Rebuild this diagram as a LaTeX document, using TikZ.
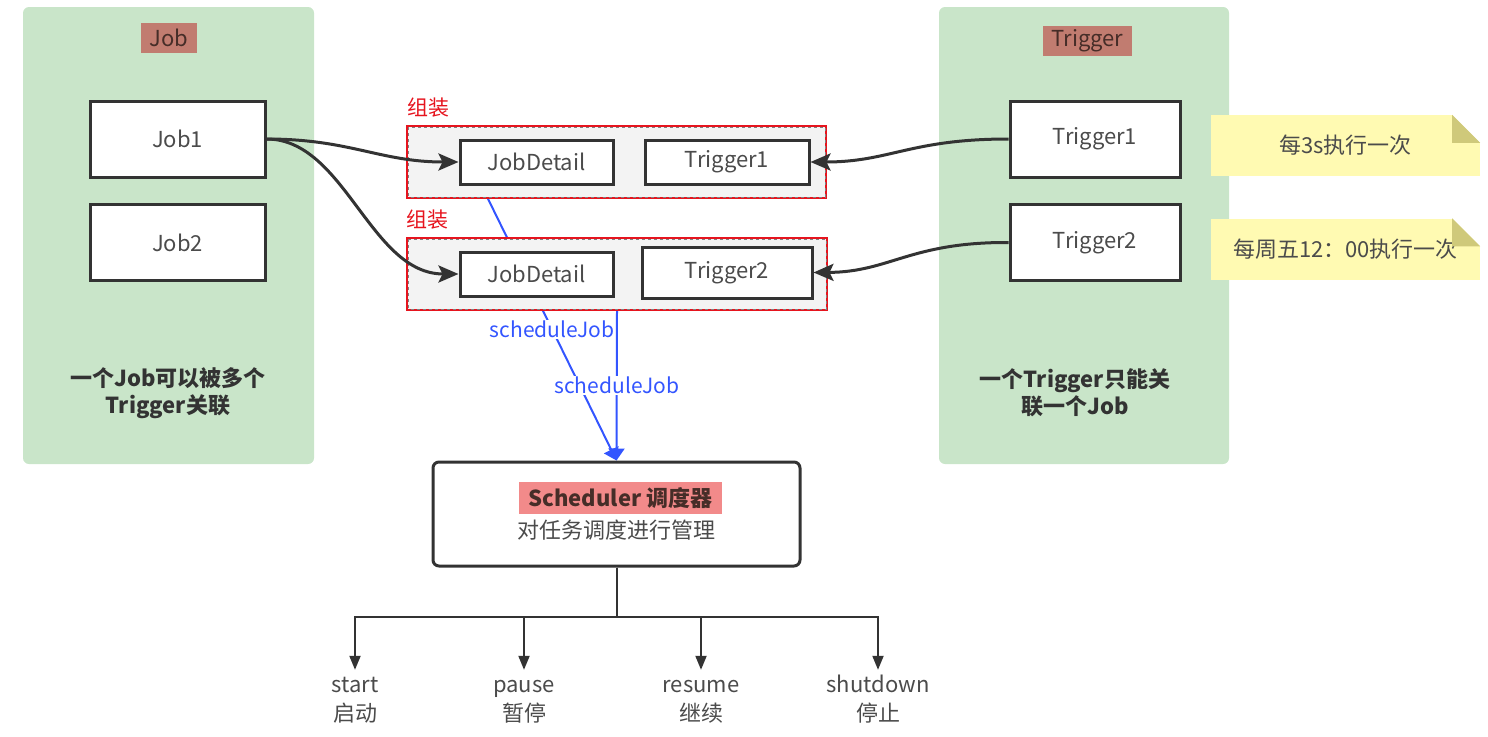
\documentclass[tikz,border=0pt]{standalone}
\usepackage{fontspec}
\setmainfont{Noto Sans CJK SC}
\usetikzlibrary{arrows.meta}
\pgfdeclarelayer{back}
\pgfsetlayers{back,main}
\definecolor{panelgreen}{RGB}{201,229,201}
\definecolor{tagred}{RGB}{193,124,112}
\definecolor{tagtext}{RGB}{70,45,40}
\definecolor{hilite}{RGB}{242,138,138}
\definecolor{boxline}{RGB}{51,51,51}
\definecolor{txtgray}{RGB}{75,75,75}
\definecolor{notey}{RGB}{255,250,178}
\definecolor{notefold}{RGB}{207,201,122}
\definecolor{blueline}{RGB}{51,85,255}
\definecolor{groupfill}{RGB}{243,243,243}
\definecolor{redline}{RGB}{230,20,30}
\begin{document}
\begin{tikzpicture}[x=1pt,y=-1pt,
  box/.style={draw=boxline,line width=3pt,fill=white,text=txtgray,font=\fontsize{22}{26}\selectfont,inner sep=0pt},
  tag/.style={fill=tagred,text=tagtext,font=\fontsize{22}{26}\selectfont,minimum height=30pt,inner xsep=9pt},
  grp/.style={draw=redline,line width=1.6pt,fill=groupfill,inner sep=0pt},
  grplabel/.style={text=redline,font=\fontsize{21}{25}\selectfont},
  note/.style={fill=notey,text=txtgray,font=\fontsize{22}{26}\selectfont,minimum width=269pt,minimum height=61pt,inner sep=0pt},
  remark/.style={align=center,text=boxline,font=\fontsize{22}{27}\selectfont\bfseries},
  link/.style={draw=boxline,line width=3pt,-{Stealth[length=20pt,width=17pt,inset=4pt]}},
  sched/.style={draw=blueline,line width=2pt,-{Triangle[length=12pt,width=16pt]}},
  schedlabel/.style={fill=white,text=blueline,font=\fontsize{21}{25}\selectfont,inner sep=1pt},
  op/.style={align=center,text=txtgray,font=\fontsize{22}{29}\selectfont,inner sep=2pt},
  branch/.style={draw=boxline,line width=2pt,-{Triangle[length=14pt,width=11pt]}}
]
\useasboundingbox (0,0) rectangle (1488,736);

\node[tag] (jobtag) at (169,38) {Job};
\node[tag] (trigtag) at (1087.5,41) {Trigger};
\node[box,minimum width=175pt,minimum height=76pt] (job1) at (177.5,139) {Job1};
\node[box,minimum width=175pt,minimum height=76pt] (job2) at (177.5,242.5) {Job2};
\node[box,minimum width=170pt,minimum height=76pt] (trig1) at (1095,139) {Trigger1};
\node[box,minimum width=170pt,minimum height=76pt] (trig2) at (1095,242.5) {Trigger2};
\node[remark] (jobnote) at (168,393) {一个Job可以被多个\\Trigger关联};
\node[remark] (trignote) at (1075,393) {一个Trigger只能关\\联一个Job};

\node[grp,minimum width=419pt,minimum height=72pt] (grp1) at (616.5,162) {};
\node[grp,minimum width=420pt,minimum height=72pt] (grp2) at (617,274) {};
\draw[gray,dashed] ([xshift=2pt,yshift=-2pt]grp1.north west) rectangle ([xshift=-2pt,yshift=2pt]grp1.south east);
\draw[gray,dashed] ([xshift=2pt,yshift=-2pt]grp2.north west) rectangle ([xshift=-2pt,yshift=2pt]grp2.south east);
\node[grplabel] (asm1) at (428,108) {组装};
\node[grplabel] (asm2) at (427,220) {组装};
\node[box,minimum width=153pt,minimum height=44pt] (jd1) at (536.5,162) {JobDetail};
\node[box,minimum width=164pt,minimum height=44pt] (t1) at (727,162) {Trigger1};
\node[box,minimum width=153pt,minimum height=44pt] (jd2) at (536.5,274) {JobDetail};
\node[box,minimum width=170pt,minimum height=51pt] (t2) at (727,272.5) {Trigger2};

\node[note] (n1) at (1345.5,145.5) {每3s执行一次};
\node[note] (n2) at (1345.5,249) {每周五12：00执行一次};
\fill[white] ([xshift=-28pt]n1.north east) -- (n1.north east) -- ([yshift=-28pt]n1.north east) -- cycle;
\fill[notefold] ([xshift=-28pt]n1.north east) -- ([xshift=-28pt,yshift=-28pt]n1.north east) -- ([yshift=-28pt]n1.north east) -- cycle;
\fill[white] ([xshift=-28pt]n2.north east) -- (n2.north east) -- ([yshift=-28pt]n2.north east) -- cycle;
\fill[notefold] ([xshift=-28pt]n2.north east) -- ([xshift=-28pt,yshift=-28pt]n2.north east) -- ([yshift=-28pt]n2.north east) -- cycle;

\draw[link] (job1.east) .. controls (350,139) and (380,162) .. (jd1.west);
\draw[link] (job1.east) .. controls (345,139) and (370,274) .. (jd2.west);
\draw[link] (trig1.west) .. controls (910,139) and (890,162) .. (t1.east);
\draw[link] (trig2.west) .. controls (910,242) and (890,272) .. (t2.east);

\node[draw=boxline,line width=3pt,fill=white,rounded corners=6pt,minimum width=367pt,minimum height=104pt] (sched) at (616.5,514) {};
\node[fill=hilite,text=tagtext,font=\fontsize{22}{26}\selectfont\bfseries,minimum width=203pt,minimum height=32pt,inner sep=0pt] (schedtitle) at (620.5,498) {Scheduler 调度器};
\node[text=txtgray,font=\fontsize{22}{26}\selectfont] (schedsub) at (616.5,530) {对任务调度进行管理};

\begin{pgfonlayer}{back}
\fill[panelgreen,rounded corners=6pt] (23,7) rectangle (314,464);
\fill[panelgreen,rounded corners=6pt] (939,7) rectangle (1229,464);
\draw[sched] ([xshift=-128.5pt]grp1.south) -- node[schedlabel] (lab1) {scheduleJob} (sched.north);
\draw[sched] (grp2.south) -- node[schedlabel] (lab2) {scheduleJob} (sched.north);
\end{pgfonlayer}

\coordinate (fork) at (616.5,617);
\foreach \x/\en/\zh/\nm in {355/start/启动/st,524/pause/暂停/pa,701/resume/继续/re,878/shutdown/停止/sh}{
  \node[op] (\nm) at (\x,701) {\strut\en\\\strut\zh};
  \draw[branch] (sched.south) -- (fork) -| (\nm.north);
}
\end{tikzpicture}
\end{document}
